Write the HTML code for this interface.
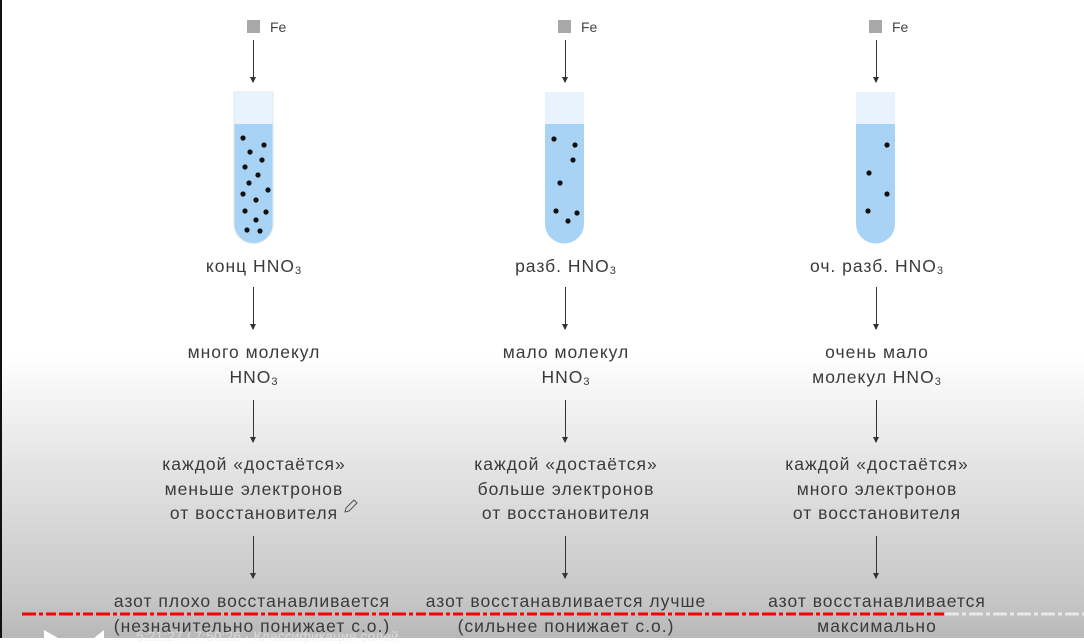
<!DOCTYPE html>
<html><head><meta charset="utf-8"><style>
html,body{margin:0;padding:0}
body{width:1084px;height:638px;position:relative;overflow:hidden;font-family:"Liberation Sans","DejaVu Sans",sans-serif;
background:linear-gradient(to bottom,#fff 0px,#fff 355px,#ececec 430px,#d8d8d8 520px,#c6c6c6 600px,#b8b8b8 638px);}
.t{position:absolute;width:340px;text-align:center;color:#3a3a3a;font-size:17.5px;line-height:24.5px;letter-spacing:1px}
.sq{position:absolute;width:13px;height:13px;background:#a8a8a8}
.fe{position:absolute;font-size:14px;color:#444}
.ar{position:absolute;width:1px;background:#333}
.ar:after{content:"";position:absolute;left:-3px;bottom:-1px;border-left:3.5px solid transparent;border-right:3.5px solid transparent;border-top:6px solid #333}
sub{font-size:11px;vertical-align:-2px;line-height:0}
</style></head><body>
<div style="position:absolute;left:0;top:0;width:2px;height:638px;background:#111"></div>

<svg width="1084" height="638" style="position:absolute;left:0;top:0">
<g id="tubes">
<path d="M234,92 H273 V224 A19.5,19.5 0 0 1 234,224 Z" fill="#a9d3f5"/>
<rect x="234" y="92" width="39" height="32" fill="#e8f3fd"/>
<path d="M234,92 H273 V224 A19.5,19.5 0 0 1 234,224 Z" fill="none" stroke="#dfe8f0" stroke-width="1"/>
<path d="M545,92 H584 V224 A19.5,19.5 0 0 1 545,224 Z" fill="#a9d3f5"/>
<rect x="545" y="92" width="39" height="32" fill="#e8f3fd"/>
<path d="M856,92 H895 V224 A19.5,19.5 0 0 1 856,224 Z" fill="#a9d3f5"/>
<rect x="856" y="92" width="39" height="32" fill="#e8f3fd"/>
</g>
<g fill="#111">
<circle cx="243" cy="138" r="2.6"/><circle cx="264" cy="145" r="2.6"/><circle cx="250" cy="152" r="2.6"/><circle cx="262" cy="160" r="2.6"/><circle cx="245" cy="167" r="2.6"/><circle cx="258" cy="175" r="2.6"/><circle cx="249" cy="183" r="2.6"/><circle cx="268" cy="190" r="2.6"/><circle cx="243" cy="194" r="2.6"/><circle cx="256" cy="200" r="2.6"/><circle cx="245" cy="211" r="2.6"/><circle cx="266" cy="212" r="2.6"/><circle cx="256" cy="220" r="2.6"/><circle cx="247" cy="230" r="2.6"/><circle cx="260" cy="231" r="2.6"/>
<circle cx="554" cy="139" r="2.6"/><circle cx="575" cy="145" r="2.6"/><circle cx="573" cy="160" r="2.6"/><circle cx="560" cy="183" r="2.6"/><circle cx="556" cy="211" r="2.6"/><circle cx="577" cy="213" r="2.6"/><circle cx="568" cy="221" r="2.6"/>
<circle cx="887" cy="145" r="2.6"/><circle cx="869" cy="173" r="2.6"/><circle cx="887" cy="194" r="2.6"/><circle cx="868" cy="211" r="2.6"/>
</g>
<line x1="22" y1="614" x2="945" y2="614" stroke="#f00" stroke-width="3" stroke-dasharray="14,3,4,3,10,3"/>
<line x1="945" y1="614" x2="1084" y2="614" stroke="#e8e8e8" stroke-width="3" stroke-dasharray="14,3,4,3"/>
<path d="M346,508 l8,-8 l3,3 l-8,8 l-4,1 z" fill="none" stroke="#555" stroke-width="1"/>
<polygon points="44,630 58,638 44,638" fill="#fff"/>
<polygon points="94,638 104,630 104,638" fill="#fff"/>
</svg>

<div class="sq" style="left:247px;top:20px"></div><div class="fe" style="left:270px;top:19px">Fe</div>
<div class="sq" style="left:558px;top:20px"></div><div class="fe" style="left:581px;top:19px">Fe</div>
<div class="sq" style="left:869px;top:20px"></div><div class="fe" style="left:892px;top:19px">Fe</div>

<div class="ar" style="left:253px;top:40px;height:42px"></div>
<div class="ar" style="left:565px;top:40px;height:42px"></div>
<div class="ar" style="left:876px;top:40px;height:42px"></div>

<div class="ar" style="left:253px;top:287px;height:42px"></div>
<div class="ar" style="left:565px;top:287px;height:42px"></div>
<div class="ar" style="left:876px;top:287px;height:42px"></div>

<div class="ar" style="left:253px;top:400px;height:42px"></div>
<div class="ar" style="left:565px;top:400px;height:42px"></div>
<div class="ar" style="left:876px;top:400px;height:42px"></div>

<div class="ar" style="left:253px;top:536px;height:42px"></div>
<div class="ar" style="left:565px;top:536px;height:42px"></div>
<div class="ar" style="left:876px;top:536px;height:42px"></div>

<div class="t" style="left:84px;top:254px">конц HNO<sub>3</sub></div>
<div class="t" style="left:396px;top:254px">разб. HNO<sub>3</sub></div>
<div class="t" style="left:707px;top:254px">оч. разб. HNO<sub>3</sub></div>

<div class="t" style="left:84px;top:340px">много молекул<br>HNO<sub>3</sub></div>
<div class="t" style="left:396px;top:340px">мало молекул<br>HNO<sub>3</sub></div>
<div class="t" style="left:707px;top:340px">очень мало<br>молекул HNO<sub>3</sub></div>

<div class="t" style="left:84px;top:452px">каждой «достаётся»<br>меньше электронов<br>от восстановителя</div>
<div class="t" style="left:396px;top:452px">каждой «достаётся»<br>больше электронов<br>от восстановителя</div>
<div class="t" style="left:707px;top:452px">каждой «достаётся»<br>много электронов<br>от восстановителя</div>

<div class="t" style="left:72px;top:589px;width:360px">азот плохо восстанавливается<br>(незначительно понижает с.о.)</div>
<div class="t" style="left:386px;top:589px;width:360px">азот восстанавливается лучше<br>(сильнее понижает с.о.)</div>
<div class="t" style="left:697px;top:589px;width:360px">азот восстанавливается<br>максимально</div>
<div style="position:absolute;left:136px;top:628px;color:#eee;font-size:14px;opacity:.6">5:21:27 / 7:50:26 · Классификация солей</div>
</body></html>
